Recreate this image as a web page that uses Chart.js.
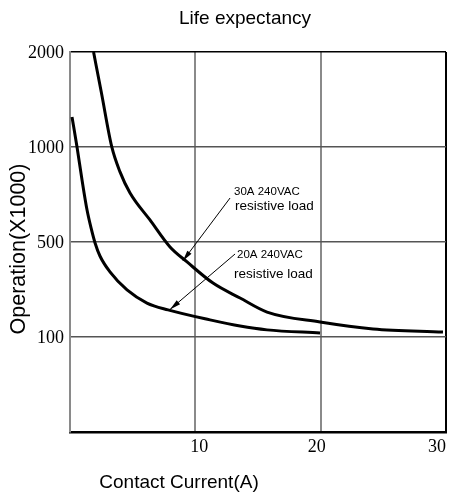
<!DOCTYPE html>
<html>
<head>
<meta charset="utf-8">
<script src="https://cdn.jsdelivr.net/npm/chart.js@4/dist/chart.umd.min.js"></script>
<style>
html,body{margin:0;padding:0;background:#fff;}
#wrap{width:449px;height:493px;}
</style>
</head>
<body>
<div id="wrap"><canvas id="c" width="449" height="493"></canvas></div>
<script>
// ---- data ----
const current20 = [0.16, 0.56, 0.96, 1.36, 1.68, 2.0, 2.39, 3.19, 4.55, 6.14, 7.82, 11.17, 13.57, 15.72, 19.95];
const ops20 = [1316, 1000, 826, 668, 574, 496, 441, 374, 298, 243, 214, 172, 146, 130, 117];
const current30 = [1.88, 2.51, 3.33, 3.99, 4.79, 6.38, 7.98, 9.34, 11.41, 13.57, 15.72, 19.95, 24.18, 29.76];
const ops30 = [2000, 1568, 1003, 869, 758, 616, 479, 416, 327, 264, 205, 163, 134, 121];
const yLevels = [0, 100, 500, 1000, 2000];
const yTickLabels = ['', '100', '500', '1000', '2000'];
const xTicks = [10, 20, 30];
const xTickLabels = ['10', '20', '30'];
const seriesNames = ['30A 240VAC resistive load', '20A 240VAC resistive load'];

// piecewise mapping of operation value onto equally spaced levels
function toPos(v) {
  for (let i = 1; i < yLevels.length; i++) {
    if (v <= yLevels[i]) return (i - 1) + (v - yLevels[i - 1]) / (yLevels[i] - yLevels[i - 1]);
  }
  return yLevels.length - 1;
}
const pts = (xs, ys) => xs.map((x, i) => ({x: x, y: toPos(ys[i])}));

const annotations = [
  {lines: ['30A 240VAC', 'resistive load'], x: [13.09, 13.17], y: [2.495, 2.337], from: [12.77, 2.463], to: [9.0, 1.80]},
  {lines: ['20A 240VAC', 'resistive load'], x: [13.33, 13.09], y: [1.832, 1.621], from: [13.17, 1.874], to: [7.98, 1.29]}
];

const textPlugin = {
  id: 'texts',
  afterDraw(chart) {
    const ctx = chart.ctx, xs = chart.scales.x, ys = chart.scales.y, ca = chart.chartArea;
    ctx.save();
    ctx.fillStyle = '#000';
    // title
    ctx.font = '19px "Liberation Sans", Arial, sans-serif';
    ctx.textAlign = 'center'; ctx.textBaseline = 'alphabetic';
    ctx.fillText('Life expectancy', 245, 24);
    // x title
    ctx.fillText('Contact Current(A)', 179, 488);
    // y title
    ctx.save();
    ctx.translate(19, 249);
    ctx.rotate(-Math.PI / 2);
    ctx.textBaseline = 'middle';
    ctx.font = '21.5px "Liberation Sans", Arial, sans-serif';
    ctx.fillText('Operation(X1000)', 0, 0);
    ctx.restore();
    // y tick labels
    ctx.font = '18px "Liberation Serif", "Times New Roman", serif';
    ctx.textAlign = 'right'; ctx.textBaseline = 'middle';
    yTickLabels.forEach((t, i) => { if (t) ctx.fillText(t, ca.left - 6, ys.getPixelForValue(i) + 1); });
    // x tick labels
    const dx = [4, -4, -9];
    ctx.textAlign = 'center';
    xTicks.forEach((v, i) => ctx.fillText(xTickLabels[i], xs.getPixelForValue(v) + dx[i], ca.bottom + 15));
    // annotations
    annotations.forEach(a => {
      ctx.textAlign = 'left'; ctx.textBaseline = 'alphabetic';
      ctx.font = '11.5px "Liberation Sans", Arial, sans-serif';
      ctx.fillText(a.lines[0], xs.getPixelForValue(a.x[0]), ys.getPixelForValue(a.y[0]));
      ctx.font = '13.5px "Liberation Sans", Arial, sans-serif';
      ctx.fillText(a.lines[1], xs.getPixelForValue(a.x[1]), ys.getPixelForValue(a.y[1]));
      const x1 = xs.getPixelForValue(a.from[0]), y1 = ys.getPixelForValue(a.from[1]);
      const x2 = xs.getPixelForValue(a.to[0]), y2 = ys.getPixelForValue(a.to[1]);
      ctx.strokeStyle = '#000'; ctx.lineWidth = 1;
      ctx.beginPath(); ctx.moveTo(x1, y1); ctx.lineTo(x2, y2); ctx.stroke();
      const ang = Math.atan2(y2 - y1, x2 - x1), L = 11, W = 2.6;
      const bx = x2 - L * Math.cos(ang), by = y2 - L * Math.sin(ang);
      ctx.beginPath();
      ctx.moveTo(x2, y2);
      ctx.lineTo(bx + W * Math.sin(ang), by - W * Math.cos(ang));
      ctx.lineTo(bx - W * Math.sin(ang), by + W * Math.cos(ang));
      ctx.closePath(); ctx.fill();
    });
    ctx.restore();
  }
};

new Chart(document.getElementById('c'), {
  type: 'line',
  data: {
    datasets: [
      {label: seriesNames[0], data: pts(current30, ops30), borderColor: '#000', borderWidth: 3, pointRadius: 0, cubicInterpolationMode: 'monotone', fill: false},
      {label: seriesNames[1], data: pts(current20, ops20), borderColor: '#000', borderWidth: 3, pointRadius: 0, cubicInterpolationMode: 'monotone', fill: false}
    ]
  },
  options: {
    responsive: false,
    animation: false,
    events: [],
    layout: {padding: {left: 70, top: 52, right: 3, bottom: 61}},
    plugins: {legend: {display: false}, title: {display: false}, tooltip: {enabled: false}},
    scales: {
      x: {
        type: 'linear', min: 0, max: 30,
        ticks: {display: false, stepSize: 10},
        grid: {drawTicks: false, lineWidth: 2, color: c => c.tick && c.tick.value === 30 ? '#000' : '#8a8a8a'},
        border: {display: true, color: '#000', width: 2.5},
        afterFit: s => { s.height = 0; }
      },
      y: {
        type: 'linear', min: 0, max: 4,
        ticks: {display: false, stepSize: 1},
        grid: {drawTicks: false, lineWidth: 1.5, color: c => !c.tick ? '#000' : (c.tick.value === 4 ? '#000' : (c.tick.value === 0 ? 'rgba(0,0,0,0)' : '#555'))},
        border: {display: true, color: '#8a8a8a', width: 2},
        afterFit: s => { s.width = 0; }
      }
    }
  },
  plugins: [textPlugin]
});
</script>
</body>
</html>
